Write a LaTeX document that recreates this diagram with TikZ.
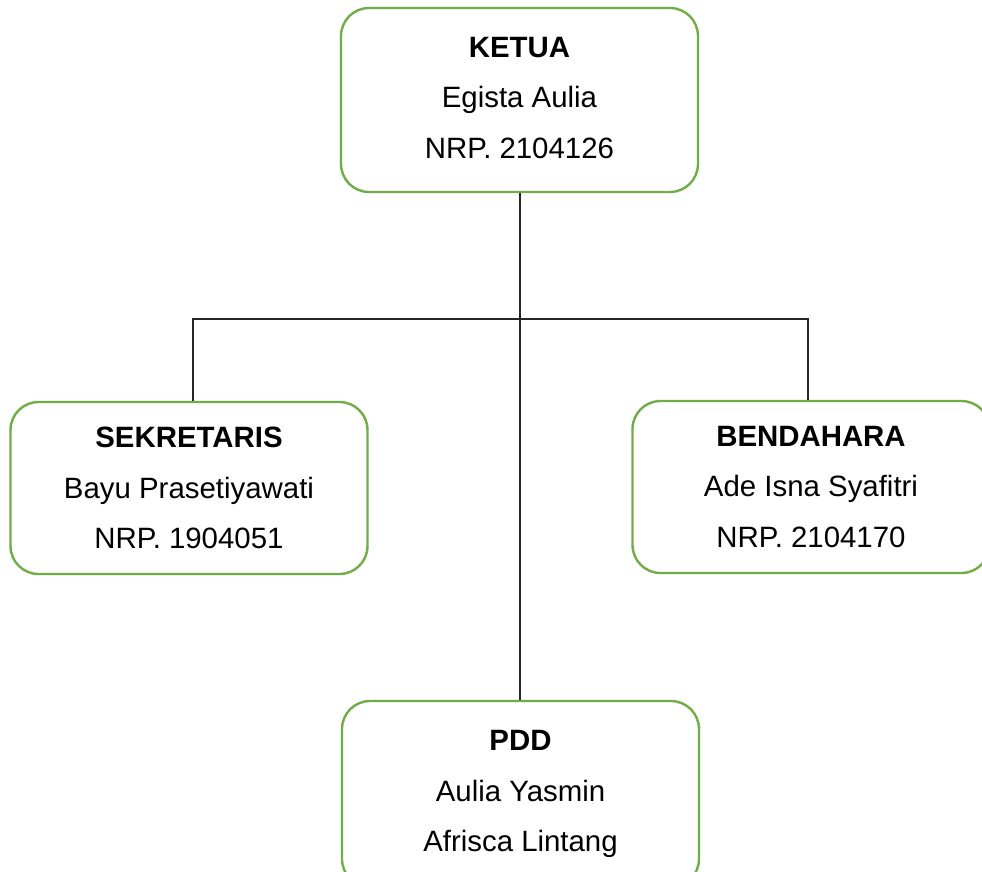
\documentclass[tikz,border=0pt]{standalone}
\usepackage{fontspec}
\setmainfont{Liberation Sans}
\definecolor{boxgreen}{HTML}{70AD47}
\begin{document}
\begin{tikzpicture}[x=1pt,y=-1pt,
  orgbox/.style={draw=boxgreen,line width=2.4pt,rounded corners=28pt,
    minimum width=357pt,minimum height=172pt,align=center,inner sep=0pt,
    font=\fontsize{29.4}{50.5}\selectfont},
  link/.style={draw=black!85,line width=1.3pt}]
\useasboundingbox (0,0) rectangle (982,872);
\clip (0,0) rectangle (982,872);
\node[orgbox,minimum height=184pt] (ketua) at (519.5,100) {\textbf{KETUA}\\Egista Aulia\\NRP. 2104126\vspace{4pt}};
\node[orgbox] (sek) at (189,488) {\textbf{SEKRETARIS}\\Bayu Prasetiyawati\\NRP. 1904051};
\node[orgbox] (bend) at (811,487) {\textbf{BENDAHARA}\\Ade Isna Syafitri\\NRP. 2104170};
\node[orgbox,minimum height=186pt] (pdd) at (520.5,794) {\textbf{PDD}\\Aulia Yasmin\\Afrisca Lintang};
\coordinate (j) at (520,319);
\draw[link] (ketua.south -| j) -- (pdd.north -| j);
\draw[link] ([xshift=4pt]sek.north) |- (j) -| ([xshift=-3pt]bend.north);
\end{tikzpicture}
\end{document}
